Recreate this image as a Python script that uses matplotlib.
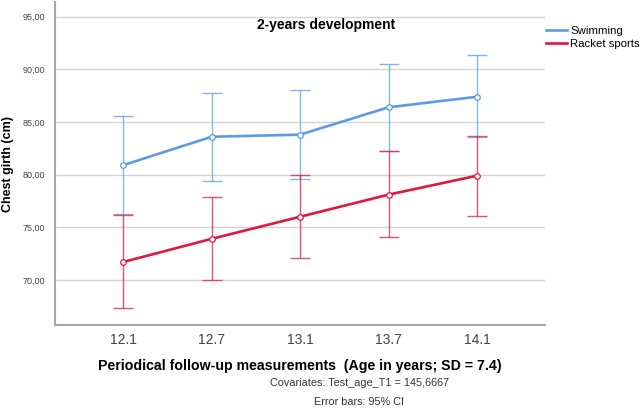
import numpy as np
import matplotlib
matplotlib.use("Agg")
import matplotlib.pyplot as plt
from matplotlib.lines import Line2D
from matplotlib.ticker import FuncFormatter

plt.rcParams['font.family'] = ['Liberation Sans', 'DejaVu Sans']

ages = ["12.1", "12.7", "13.1", "13.7", "14.1"]

swim_mean = [80.9, 83.6, 83.8, 86.4, 87.4]
swim_low = [76.3, 79.4, 79.6, 82.2, 83.6]
swim_high = [85.6, 87.8, 88.0, 90.5, 91.4]

racket_mean = [71.7, 73.9, 76.0, 78.1, 79.9]
racket_low = [67.3, 70.0, 72.1, 74.1, 76.1]
racket_high = [76.2, 77.9, 80.0, 82.2, 83.7]

blue = "#5b9be6"
red = "#e2173f"

fig = plt.figure(figsize=(6.44, 4.09), dpi=100)
ax = fig.add_axes([0.0854, 0.205, 0.761, 0.79])

x = np.arange(len(ages))

handles = []
for mean, low, high, col, lab in [(swim_mean, swim_low, swim_high, blue, "Swimming"),
                                  (racket_mean, racket_low, racket_high, red, "Racket sports")]:
    mean = np.array(mean)
    yerr = [mean - np.array(low), np.array(high) - mean]
    ax.errorbar(x, mean, yerr=yerr, fmt='none', ecolor=col, elinewidth=1.0,
                capsize=7.5, capthick=1.0, alpha=0.75, zorder=2)
    ax.plot(x, mean, color=col, lw=1.9, marker='o', markersize=4,
            markerfacecolor='white', markeredgecolor=col, markeredgewidth=0.9,
            zorder=3)
    handles.append(Line2D([0], [0], color=col, lw=1.9, label=lab))

ax.set_xlim(-0.77, 4.77)
ax.set_ylim(65.7, 96.4)
ax.set_xticks(x)
ax.set_xticklabels(ages)
ax.set_yticks([70, 75, 80, 85, 90, 95])
ax.yaxis.set_major_formatter(FuncFormatter(lambda v, p: f"{v:.2f}".replace('.', ',')))
ax.tick_params(axis='y', length=0, labelsize=6.5, labelcolor='#444444', pad=7)
ax.tick_params(axis='x', length=0, labelsize=10, labelcolor='#444444', pad=6)

ax.grid(axis='y', color='#d4d4d4', lw=1.0)
ax.set_axisbelow(True)
for s in ['top', 'right']:
    ax.spines[s].set_visible(False)
for s in ['left', 'bottom']:
    ax.spines[s].set_color('#a8a8a8')
    ax.spines[s].set_linewidth(1.5)

ax.set_ylabel("Chest girth (cm)", fontsize=9, fontweight='bold', labelpad=6)
ax.set_xlabel("Periodical follow-up measurements  (Age in years; SD = 7.4)",
              fontsize=10.2, fontweight='bold', labelpad=8)

ax.text(0.553, 0.929, "2-years development", transform=ax.transAxes,
        ha='center', va='center', fontsize=10, fontweight='bold')

fig.legend(handles=handles, loc='upper left', bbox_to_anchor=(0.848, 0.937), frameon=False,
           fontsize=8.2, handlelength=1.8, handletextpad=0.3, labelspacing=0.3,
           borderaxespad=0, borderpad=0)

fig.text(360 / 644, 1 - 383 / 409, "Covariates: Test_age_T1 = 145,6667",
         ha='center', va='center', fontsize=7.8, color='#333333')
fig.text(359 / 644, 1 - 402 / 409, "Error bars: 95% CI",
         ha='center', va='center', fontsize=7.8, color='#333333')

fig.savefig("out.png", dpi=100)
